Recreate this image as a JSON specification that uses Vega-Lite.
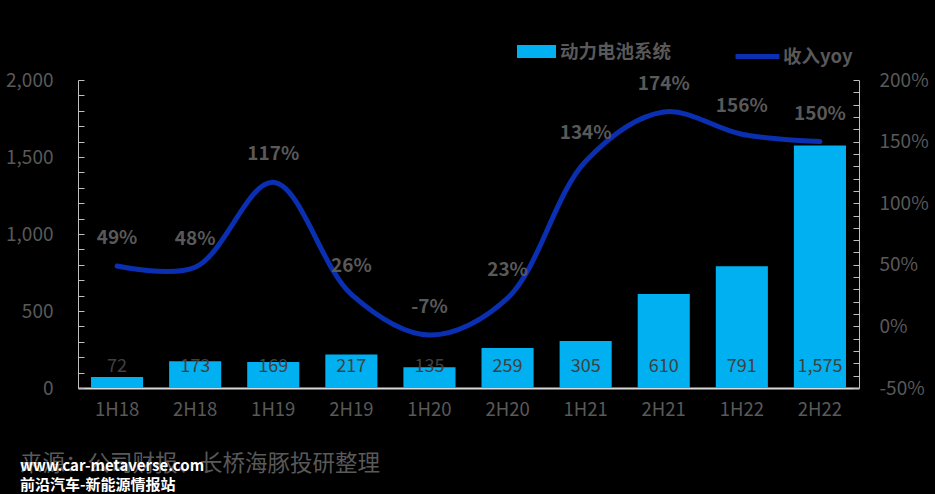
{
  "$schema": "https://vega.github.io/schema/vega-lite/v6.json",
  "autosize": {"type": "none"},
  "width": 781,
  "height": 308,
  "padding": {"left": 78, "top": 80, "right": 76, "bottom": 106},
  "background": "#000000",
  "config": {
    "view": {"stroke": null},
    "font": "Noto Sans CJK SC",
    "axis": {"labelFont": "Noto Sans CJK SC", "labelColor": "#595959", "labelFontSize": 19, "grid": false, "labelOverlap": false, "labelBound": false},
    "legend": {"labelFont": "Noto Sans CJK SC"}
  },
  "title": {
    "text": "来源：公司财报、长桥海豚投研整理",
    "orient": "bottom",
    "anchor": "start",
    "align": "left",
    "frame": "group",
    "dx": -58,
    "offset": 34,
    "fontSize": 22.5,
    "fontWeight": "normal",
    "color": "#595959",
    "subtitle": ["www.car-metaverse.com", "  前沿汽车-新能源情报站"],
    "subtitleColor": "#FFFFFF",
    "subtitleFontSize": 15,
    "subtitleFontWeight": "bold",
    "subtitlePadding": -16,
    "subtitleLineHeight": 19
  },
  "data": {
    "values": [
      {"period": "1H18", "rev": 72, "yoy": 0.49},
      {"period": "2H18", "rev": 173, "yoy": 0.48},
      {"period": "1H19", "rev": 169, "yoy": 1.17},
      {"period": "2H19", "rev": 217, "yoy": 0.26},
      {"period": "1H20", "rev": 135, "yoy": -0.07},
      {"period": "2H20", "rev": 259, "yoy": 0.23},
      {"period": "1H21", "rev": 305, "yoy": 1.34},
      {"period": "2H21", "rev": 610, "yoy": 1.74},
      {"period": "1H22", "rev": 791, "yoy": 1.56},
      {"period": "2H22", "rev": 1575, "yoy": 1.50}
    ]
  },
  "encoding": {
    "x": {
      "field": "period",
      "type": "ordinal",
      "sort": null,
      "scale": {"paddingInner": 0.333, "paddingOuter": 0.1667},
      "axis": {
        "title": null,
        "labelAngle": 0,
        "ticks": false,
        "domainColor": "#D9D9D9",
        "domainWidth": 2,
        "labelPadding": 12,
        "labelFontSize": 18.5
      }
    }
  },
  "layer": [
    {
      "layer": [
        {
          "mark": {"type": "bar"},
          "encoding": {
            "y": {
              "field": "rev",
              "type": "quantitative",
              "scale": {"domain": [0, 2000], "nice": false},
              "axis": {
                "title": null,
                "values": [0,100,200,300,400,500,600,700,800,900,1000,1100,1200,1300,1400,1500,1600,1700,1800,1900,2000],
                "tickCount": 100,
                "labelExpr": "datum.value % 500 === 0 ? format(datum.value, ',') : ''",
                "labelOverlap": false,
                "labelBound": false,
                "labelFlush": false,
                "tickSize": -6,
                "tickColor": "#BFBFBF",
                "domainColor": "#BFBFBF",
                "labelPadding": 31,
                "labelFontSize": 19
              }
            },
            "fill": {
              "datum": "动力电池系统",
              "scale": {"domain": ["动力电池系统"], "range": ["#00B0F0"]},
              "legend": {
                "title": null,
                "orient": "none",
                "legendX": 439,
                "legendY": -48,
                "symbolType": "M-1,-0.33H1V0.33H-1Z",
                "symbolSize": 1521,
                "symbolStrokeWidth": 0,
                "labelFontSize": 18.5,
                "labelFontWeight": "bold",
                "labelColor": "#595959",
                "labelOffset": 4
              }
            }
          }
        },
        {
          "mark": {"type": "text", "baseline": "middle", "dy": -21, "fontSize": 18, "color": "#404040"},
          "encoding": {
            "y": {"datum": 0, "type": "quantitative"},
            "text": {"field": "rev", "type": "quantitative", "format": ","}
          }
        }
      ]
    },
    {
      "layer": [
        {
          "mark": {"type": "line", "interpolate": "catmull-rom", "strokeWidth": 5, "strokeCap": "round"},
          "encoding": {
            "y": {
              "field": "yoy",
              "type": "quantitative",
              "scale": {"domain": [-0.5, 2], "nice": false},
              "axis": {
                "title": null,
                "orient": "right",
                "values": [-0.5,-0.4,-0.3,-0.2,-0.1,0,0.1,0.2,0.3,0.4,0.5,0.6,0.7,0.8,0.9,1,1.1,1.2,1.3,1.4,1.5,1.6,1.7,1.8,1.9,2],
                "tickCount": 100,
                "labelExpr": "abs(round(datum.value * 100)) % 50 === 0 ? replace(format(datum.value, '.0%'), '−', '-') : ''",
                "labelOverlap": false,
                "labelBound": false,
                "labelFlush": false,
                "tickSize": -6,
                "tickColor": "#BFBFBF",
                "domainColor": "#BFBFBF",
                "labelPadding": 26,
                "labelFontSize": 19
              }
            },
            "stroke": {
              "datum": "收入yoy",
              "scale": {"domain": ["收入yoy"], "range": ["#0A2FB0"]},
              "legend": {
                "title": null,
                "orient": "none",
                "legendX": 655,
                "legendY": -48,
                "symbolType": "stroke",
                "symbolSize": 1936,
                "symbolStrokeWidth": 5,
                "labelFontSize": 18.5,
                "labelFontWeight": "bold",
                "labelColor": "#595959",
                "labelOffset": 1
              }
            }
          }
        },
        {
          "mark": {"type": "text", "baseline": "middle", "dy": -28, "fontSize": 19, "fontWeight": "bold", "color": "#595959", "text": {"expr": "replace(format(datum.yoy, '.0%'), '−', '-')"}},
          "encoding": {
            "y": {"field": "yoy", "type": "quantitative"}
          }
        }
      ]
    }
  ],
  "resolve": {"scale": {"y": "independent"}}
}
